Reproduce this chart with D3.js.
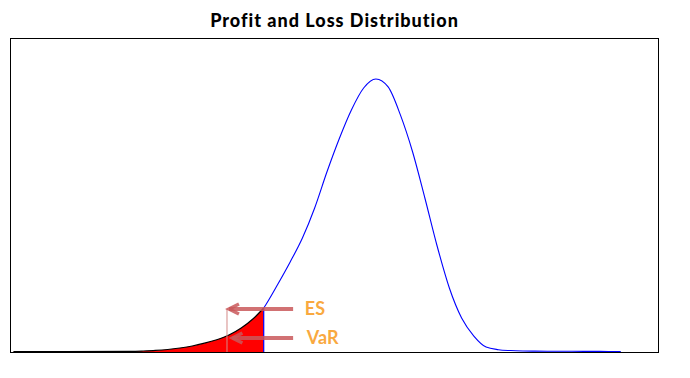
<!DOCTYPE html>
<html>
<head>
<meta charset="utf-8">
<script src="https://cdn.jsdelivr.net/npm/d3@7"></script>
<style>
  body { margin: 0; background: #fff; }
  svg { display: block; }
</style>
</head>
<body>
<script>
// P&L in standard deviations from the mean, and the density
const pnl = [-7.4, -5, -4.75, -4.5, -4.25, -4, -3.75, -3.5, -3.25, -3, -2.75, -2.5, -2.29, -2.25, -2,
  -1.75, -1.5, -1.25, -1, -0.75, -0.5, -0.25, 0, 0.25, 0.5, 0.75, 1, 1.25, 1.5, 1.75, 2,
  2.25, 2.5, 2.75, 3, 3.25, 3.5, 3.75, 4, 4.25, 4.5, 4.75, 5];
const density = [0.0005, 0.001, 0.0015, 0.0023, 0.0037, 0.0059, 0.0088, 0.0129, 0.018, 0.0249, 0.0352, 0.0491, 0.0645, 0.0689, 0.0996,
  0.1319, 0.167, 0.211, 0.2637, 0.3121, 0.3546, 0.3868, 0.4, 0.3883, 0.3473, 0.293, 0.2256, 0.1553, 0.0938, 0.0498, 0.0234,
  0.0073, 0.0034, 0.0021, 0.0015, 0.0013, 0.0012, 0.0011, 0.001, 0.0009, 0.0009, 0.0008, 0.0008];

const varLevel = -2.29;
const esLevel = -3.04;

// annotation arrows: tip position, arrow height (density units), label
const labels = ['ES', 'VaR'];
const arrowTip = [-3.02, -2.95];
const arrowLevel = [0.063, 0.0205];
const arrowTail = -1.69;
const labelAt = [-1.45, -1.41];

const chart = {
  width: 690,
  height: 378,
  margin: { left: 10, right: 31, top: 38, bottom: 26 },
};

const svg = d3.select('body')
  .append('svg')
  .attr('width', chart.width)
  .attr('height', chart.height);

const w = chart.width - chart.margin.left - chart.margin.right;
const h = chart.height - chart.margin.top - chart.margin.bottom;

const g = svg.append('g')
  .attr('transform', `translate(${chart.margin.left}, ${chart.margin.top})`);

const xScale = d3.scaleLinear()
  .domain([-7.47, 5.78])
  .range([0, w]);

const yScale = d3.scaleLinear()
  .domain([0, 0.46])
  .range([h, 0]);

const data = pnl.map((p, i) => ({ p: p, d: density[i] }));
const tail = data.filter(d => d.p <= varLevel);
const body = data.filter(d => d.p >= varLevel);

const line = d3.line()
  .x(d => xScale(d.p))
  .y(d => yScale(d.d))
  .curve(d3.curveMonotoneX);

const area = d3.area()
  .x(d => xScale(d.p))
  .y0(yScale(0))
  .y1(d => yScale(d.d))
  .curve(d3.curveMonotoneX);

// red loss tail
g.append('path')
  .datum(tail)
  .attr('d', area)
  .attr('fill', '#ff0000');

g.append('path')
  .datum(tail)
  .attr('d', line)
  .attr('fill', 'none')
  .attr('stroke', '#000')
  .attr('stroke-width', 1.2);

g.append('path')
  .datum(body)
  .attr('d', line)
  .attr('fill', 'none')
  .attr('stroke', '#0000ff')
  .attr('stroke-width', 1.1);

// VaR cut-off line
const varD = density[pnl.indexOf(varLevel)];
g.append('line')
  .attr('x1', xScale(varLevel)).attr('x2', xScale(varLevel))
  .attr('y1', yScale(0)).attr('y2', yScale(varD))
  .attr('stroke', '#0000ff')
  .attr('stroke-width', 1.2);

// ES marker line
g.append('line')
  .attr('x1', xScale(esLevel)).attr('x2', xScale(esLevel))
  .attr('y1', yScale(0)).attr('y2', yScale(arrowLevel[0]))
  .attr('stroke', '#d48a88')
  .attr('stroke-width', 1);

// frame
g.append('rect')
  .attr('x', 0.5).attr('y', 0.5)
  .attr('width', w - 1).attr('height', h)
  .attr('fill', 'none')
  .attr('stroke', '#000')
  .attr('stroke-width', 1);

// arrows
labels.forEach((lab, i) => {
  const tx = xScale(arrowTip[i]);
  const ty = yScale(arrowLevel[i]);
  const ax = g.append('g')
    .attr('stroke', '#c9585a')
    .attr('stroke-opacity', 0.85)
    .attr('fill', 'none')
    .attr('stroke-linecap', 'butt');
  ax.append('line')
    .attr('x1', tx + 1).attr('x2', xScale(arrowTail))
    .attr('y1', ty).attr('y2', ty)
    .attr('stroke-width', 4);
  ax.append('path')
    .attr('d', `M${tx + 11},${ty - 5} L${tx + 1},${ty} L${tx + 11},${ty + 5}`)
    .attr('stroke-width', 3.5)
    .attr('stroke-linejoin', 'miter');

  g.append('text')
    .attr('x', xScale(labelAt[i]))
    .attr('y', ty + 6)
    .attr('font-family', 'Lato, "Open Sans", sans-serif')
    .attr('font-weight', 'bold')
    .attr('font-size', 18)
    .attr('fill', '#f9a93f')
    .text(lab);
});

svg.append('text')
  .attr('x', chart.margin.left + w / 2)
  .attr('y', 27)
  .attr('text-anchor', 'middle')
  .attr('font-family', 'Lato, sans-serif')
  .attr('font-weight', 900)
  .attr('font-size', 18)
  .attr('letter-spacing', 1)
  .attr('fill', '#000')
  .text('Profit and Loss Distribution');
</script>
</body>
</html>
